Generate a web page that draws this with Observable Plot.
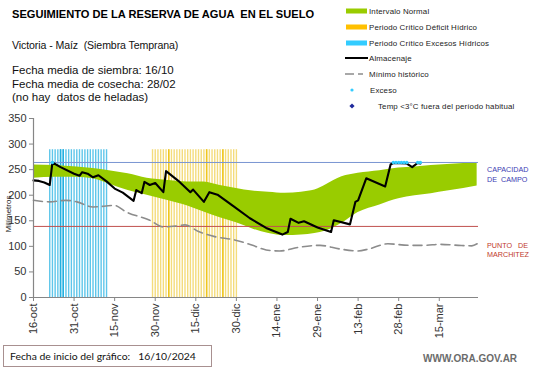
<!DOCTYPE html>
<html>
<head>
<meta charset="utf-8">
<script src="https://cdn.jsdelivr.net/npm/d3@7"></script>
<script src="https://cdn.jsdelivr.net/npm/@observablehq/plot@0.6"></script>
<style>
  html, body { margin: 0; padding: 0; background: #fff; }
  #wrap { position: relative; width: 541px; height: 368px; overflow: hidden; font-family: "Liberation Sans", Arial, sans-serif; }
  #wrap > svg { position: absolute; left: 0; top: 0; }
  #overlay { pointer-events: none; }
  #overlay text { white-space: pre; }
</style>
</head>
<body>
<div id="wrap"></div>
<script>
// ---------- data (day offsets from chart start 16/10/2024) ----------
const startDate = "2024-10-16";
const endDay = 164.5;

const tickDays   = [0, 15, 30, 45, 60, 75, 90, 105, 120, 135, 150];
const tickLabels = ["16-oct", "31-oct", "15-nov", "30-nov", "15-dic", "30-dic", "14-ene", "29-ene", "13-feb", "28-feb", "15-mar"];
const yTicks = [0, 50, 100, 150, 200, 250, 300, 350];

const capacidadCampo = 264;
const puntoMarchitez = 139;
const criticalTop = 289;

// Almacenaje (soil water storage)
const almDays   = [0, 2, 4, 6, 7, 10, 15, 17, 18, 20, 22, 24, 27, 30, 33, 37, 38, 40, 41, 43, 45, 48, 49, 54, 58, 59, 63, 65, 68, 74, 80, 86, 92, 94, 95, 98, 100, 105, 110, 111, 117, 119, 120, 123, 130, 132, 133, 138, 140, 142, 143];
const almValues = [229, 228, 225, 220, 264, 255, 242, 238, 245, 242, 235, 239, 227, 213, 205, 189, 210, 204, 226, 220, 224, 206, 247, 226, 206, 211, 187, 206, 201, 178, 155, 136, 123, 128, 154, 146, 149, 137, 128, 151, 143, 187, 190, 233, 217, 260, 263, 262, 255, 263, 262];

// Mínimo histórico
const minDays   = [0, 6, 12, 16, 22, 30, 34, 43, 48, 53, 56, 61, 67, 74, 81, 86, 91, 98, 106, 113, 120, 124, 131, 139, 145, 150, 157, 162, 164];
const minValues = [190, 187, 190, 187, 177, 180, 168, 151, 138, 140, 142, 129, 119, 113, 102, 93, 91, 98, 102, 95, 91, 95, 105, 102, 102, 104, 102, 101, 105];

// Intervalo normal (band)
const bandDays  = [0, 8, 16, 22, 28, 35, 42, 50, 57, 63, 69, 75, 81, 87, 93, 99, 104, 108, 114, 120, 128, 135, 141, 147, 153, 159, 164];
const bandUpper = [259, 258, 255, 252, 248, 242, 233, 229, 226, 226, 219, 213, 208, 206, 204, 206, 210, 220, 236, 243, 248, 253, 255, 258, 260, 262, 263];
const bandLower = [233, 235, 235, 232, 222, 209, 200, 189, 179, 167, 156, 146, 134, 125, 121, 122, 125, 130, 145, 166, 181, 193, 199, 203, 208, 213, 218];

// Exceso points
const excesoDays   = [7, 133, 134, 135, 136, 137, 138, 142, 143];
const excesoValues = [264, 264, 264, 264, 264, 264, 264, 264, 264];

// Critical periods (daily bars)
const excessPeriodDays  = [6, 7, 8, 9, 10, 11, 12, 13, 14, 15, 16, 17, 18, 19, 20, 21, 22, 23, 24, 25, 26, 27];
const excessDarkDays    = [10, 11];
const deficitPeriodDays = [44, 45, 46, 47, 48, 49, 50, 51, 52, 53, 54, 55, 56, 57, 58, 59, 60, 61, 62, 63, 64, 65, 66, 67, 68, 69, 70, 71, 72, 73, 74, 75];
const deficitDarkDays   = [50, 64, 70];

// ---------- helpers ----------
const t0 = Date.parse(startDate + "T00:00:00Z");
const toDate = d => new Date(t0 + d * 864e5);

const alm  = almDays.map((d, i) => ({date: toDate(d), v: almValues[i]}));
const mins = minDays.map((d, i) => ({date: toDate(d), v: minValues[i]}));
const band = bandDays.map((d, i) => ({date: toDate(d), lo: bandLower[i], hi: bandUpper[i]}));
const exc  = excesoDays.map((d, i) => ({date: toDate(d), v: excesoValues[i]}));

const chart = Plot.plot({
  width: 541,
  height: 368,
  marginLeft: 33,
  marginRight: 63,
  marginTop: 118,
  marginBottom: 71,
  style: {fontFamily: "'Liberation Sans', Arial, sans-serif", fontSize: "11px", color: "#333", background: "transparent"},
  x: {type: "utc", domain: [toDate(0), toDate(endDay)]},
  y: {domain: [0, 350]},
  marks: [
    Plot.ruleX(excessPeriodDays, {x: toDate, y1: 0, y2: criticalTop, stroke: "#5ec6ea", strokeWidth: 1.4}),
    Plot.ruleX(excessDarkDays, {x: toDate, y1: 0, y2: criticalTop, stroke: "#22b0e0", strokeWidth: 1.5}),
    Plot.ruleX(deficitPeriodDays, {x: toDate, y1: 0, y2: criticalTop, stroke: "#f4dc7c", strokeWidth: 1.4}),
    Plot.ruleX(deficitDarkDays, {x: toDate, y1: 0, y2: criticalTop, stroke: "#efc61e", strokeWidth: 1.5}),
    Plot.areaY(band, {x: "date", y1: "lo", y2: "hi", fill: "#99cc00", curve: "monotone-x"}),
    Plot.ruleY([capacidadCampo], {stroke: "#7a96d2", strokeWidth: 1}),
    Plot.ruleY([puntoMarchitez], {stroke: "#c0504d", strokeWidth: 1}),
    Plot.line(mins, {x: "date", y: "v", stroke: "#8c8c8c", strokeWidth: 1.6, strokeDasharray: "9,5", curve: "monotone-x"}),
    Plot.line(alm, {x: "date", y: "v", stroke: "#000", strokeWidth: 2.1}),
    Plot.dot(exc, {x: "date", y: "v", r: 1.7, fill: "#33ccff"}),
    Plot.ruleX([toDate(0)], {stroke: "#868686", strokeWidth: 1.2}),
    Plot.ruleY([0], {stroke: "#868686", strokeWidth: 1.2}),
    Plot.axisY({ticks: yTicks, tickSize: 4, tickPadding: 3, stroke: "#868686", fontSize: 11, label: null}),
    Plot.axisX({ticks: tickDays.map(toDate), tickFormat: (d, i) => tickLabels[i], tickRotate: -90, tickSize: 4, tickPadding: 2, stroke: "#868686", fontSize: 11, label: null})
  ]
});

const wrap = document.getElementById("wrap");
wrap.appendChild(chart);

// ---------- text overlay (titles, legend, labels) ----------
const ns = "http://www.w3.org/2000/svg";
const ov = document.createElementNS(ns, "svg");
ov.setAttribute("id", "overlay");
ov.setAttribute("width", 541);
ov.setAttribute("height", 368);
wrap.appendChild(ov);
function el(tag, attrs, text) {
  const e = document.createElementNS(ns, tag);
  for (const k in attrs) e.setAttribute(k, attrs[k]);
  if (text != null) e.textContent = text;
  ov.appendChild(e);
  return e;
}
const F = "'Liberation Sans', Arial, sans-serif";

el("text", {x: 12, y: 18, "font-family": F, "font-size": 11.1, "font-weight": "bold", fill: "#000"}, "SEGUIMIENTO DE LA RESERVA DE AGUA  EN EL SUELO");
el("text", {x: 12, y: 49, "font-family": F, "font-size": 10.6, fill: "#111", "letter-spacing": "-0.1"}, "Victoria - Maíz  (Siembra Temprana)");
el("text", {x: 12, y: 74, "font-family": F, "font-size": 11.5, fill: "#111"}, "Fecha media de siembra: 16/10");
el("text", {x: 12, y: 88, "font-family": F, "font-size": 11.5, fill: "#111"}, "Fecha media de cosecha: 28/02");
el("text", {x: 12, y: 101, "font-family": F, "font-size": 11.5, fill: "#111"}, "(no hay  datos de heladas)");

// legend
const legend = [
  {label: "Intervalo Normal", kind: "bar", color: "#99cc00"},
  {label: "Periodo Crítico Déficit Hídrico", kind: "bar", color: "#ffc000"},
  {label: "Periodo Crítico Excesos Hídricos", kind: "bar", color: "#33ccff"},
  {label: "Almacenaje", kind: "line", color: "#000"},
  {label: "Mínimo histórico", kind: "dash", color: "#8c8c8c"},
  {label: "Exceso", kind: "dot", color: "#33ccff"},
  {label: "Temp <3°C fuera del período habitual", kind: "diamond", color: "#1f2a9c"}
];
const legendY = [11, 27, 43, 58, 74, 90, 106];
legend.forEach((it, i) => {
  const cy = legendY[i];
  let tx = 369;
  if (it.kind === "bar") el("rect", {x: 346, y: cy - 2.5, width: 21, height: 5, fill: it.color});
  else if (it.kind === "line") el("line", {x1: 345, x2: 368, y1: cy, y2: cy, stroke: it.color, "stroke-width": 2});
  else if (it.kind === "dash") el("line", {x1: 345, x2: 368, y1: cy, y2: cy, stroke: it.color, "stroke-width": 1.6, "stroke-dasharray": "9,4,5"});
  else if (it.kind === "dot") { el("circle", {cx: 352, cy: cy, r: 1.6, fill: it.color}); tx = 370; }
  else if (it.kind === "diamond") { el("path", {d: `M352,${cy-2.6}L354.6,${cy}L352,${cy+2.6}L349.4,${cy}Z`, fill: it.color}); tx = 378; }
  el("text", {x: tx, y: cy + 2.8, "font-family": F, "font-size": 7.9, fill: "#222", "letter-spacing": "0.15"}, it.label);
});

// y label
el("text", {transform: "translate(11,214) rotate(-90)", "text-anchor": "middle", "font-family": F, "font-size": 8, fill: "#222"}, "Milímetros");

// right side labels
el("text", {x: 487, y: 172, "font-family": F, "font-size": 7.2, fill: "#3b3bb3"}, "CAPACIDAD");
el("text", {x: 487, y: 182, "font-family": F, "font-size": 7.2, fill: "#3b3bb3"}, "DE  CAMPO");
el("text", {x: 487, y: 248, "font-family": F, "font-size": 7.2, fill: "#c0392b"}, "PUNTO   DE");
el("text", {x: 487, y: 257, "font-family": F, "font-size": 7.2, fill: "#c0392b"}, "MARCHITEZ");

// footer
el("rect", {x: 3.5, y: 345.5, width: 208, height: 21, fill: "none", stroke: "#a89090", "stroke-width": 1});
el("text", {x: 10, y: 360, "font-family": "Lato, 'Open Sans', sans-serif", "font-size": 10.4, fill: "#111"}, "Fecha de inicio del gráfico:   16/10/2024");
el("text", {x: 423, y: 362, "font-family": F, "font-size": 10, "font-weight": "bold", fill: "#6b6b6b"}, "WWW.ORA.GOV.AR");
</script>
</body>
</html>
